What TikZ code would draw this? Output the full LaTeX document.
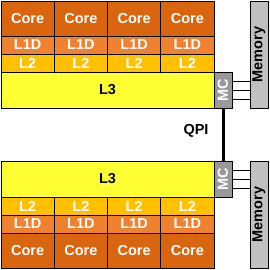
\documentclass[tikz,border=0pt]{standalone}
\usepackage{fontspec}
\setmainfont{Liberation Sans}
\usepackage{xcolor}
\usepackage{tikz}
\definecolor{corecol}{HTML}{D9650F}
\definecolor{lonecol}{HTML}{F0822F}
\definecolor{ltwocol}{HTML}{FFC000}
\definecolor{lthreecol}{HTML}{FFFF33}
\definecolor{mccol}{HTML}{999999}
\definecolor{memcol}{HTML}{C0C0C0}

\begin{document}
\begin{tikzpicture}[
    x=1pt, y=-1pt,
    cell/.style={
        rectangle,
        draw=black,
        line width=0.8pt,
        inner sep=0pt,
        outer sep=0pt,
        minimum width=53.25pt,
        minimum height=18pt,
        font=\fontsize{14.5}{14.5}\selectfont\bfseries,
    },
    core/.style={cell, fill=corecol, text=white, minimum height=35pt},
    lone/.style={cell, fill=lonecol, text=white},
    ltwo/.style={cell, fill=ltwocol, text=white},
    lthree/.style={cell, fill=lthreecol, text=black, minimum width=213pt, minimum height=36pt},
    mctrl/.style={cell, fill=mccol, text=white, minimum width=18pt, minimum height=36pt},
    memory/.style={cell, fill=memcol, text=black, minimum width=18pt, minimum height=107pt},
    membus/.style={line width=0.8pt, draw=black},
    qpi/.style={line width=3pt, draw=black},
]
\useasboundingbox (0,0) rectangle (270,270);

% upper socket
\node[core] (coreA1) at ( 27.6, 18.5) {Core};
\node[core] (coreA2) at ( 80.9, 18.5) {Core};
\node[core] (coreA3) at (134.1, 18.5) {Core};
\node[core] (coreA4) at (187.4, 18.5) {Core};
\node[lone] (loneA1) at ( 27.6, 45) {L1D};
\node[lone] (loneA2) at ( 80.9, 45) {L1D};
\node[lone] (loneA3) at (134.1, 45) {L1D};
\node[lone] (loneA4) at (187.4, 45) {L1D};
\node[ltwo] (ltwoA1) at ( 27.6, 63) {L2};
\node[ltwo] (ltwoA2) at ( 80.9, 63) {L2};
\node[ltwo] (ltwoA3) at (134.1, 63) {L2};
\node[ltwo] (ltwoA4) at (187.4, 63) {L2};
\node[lthree] (lthreeA) at (107.5, 90) {L3};
\node[mctrl] (mcA) at (223, 90) {\rotatebox{90}{MC}};
\node[memory] (memA) at (259, 54.5) {\rotatebox{90}{Memory}};

% lower socket
\node[lthree] (lthreeB) at (107.5, 179) {L3};
\node[mctrl] (mcB) at (223, 179) {\rotatebox{90}{MC}};
\node[memory] (memB) at (259, 214.5) {\rotatebox{90}{Memory}};
\node[ltwo] (ltwoB1) at ( 27.6, 206) {L2};
\node[ltwo] (ltwoB2) at ( 80.9, 206) {L2};
\node[ltwo] (ltwoB3) at (134.1, 206) {L2};
\node[ltwo] (ltwoB4) at (187.4, 206) {L2};
\node[lone] (loneB1) at ( 27.6, 224) {L1D};
\node[lone] (loneB2) at ( 80.9, 224) {L1D};
\node[lone] (loneB3) at (134.1, 224) {L1D};
\node[lone] (loneB4) at (187.4, 224) {L1D};
\node[core] (coreB1) at ( 27.6, 250.5) {Core};
\node[core] (coreB2) at ( 80.9, 250.5) {Core};
\node[core] (coreB3) at (134.1, 250.5) {Core};
\node[core] (coreB4) at (187.4, 250.5) {Core};

% memory channels
\draw[membus] ([yshift=9pt]mcA.east) -- ([yshift=9pt]mcA.east -| memA.west);
\draw[membus] (mcA.east) -- (mcA.east -| memA.west);
\draw[membus] ([yshift=-9pt]mcA.east) -- ([yshift=-9pt]mcA.east -| memA.west);
\draw[membus] ([yshift=9pt]mcB.east) -- ([yshift=9pt]mcB.east -| memB.west);
\draw[membus] (mcB.east) -- (mcB.east -| memB.west);
\draw[membus] ([yshift=-9pt]mcB.east) -- ([yshift=-9pt]mcB.east -| memB.west);

% interconnect
\draw[qpi] (mcA) -- (mcB);
\node[font=\fontsize{14.5}{14.5}\selectfont\bfseries] (qpilbl) at (196, 131) {QPI};

\end{tikzpicture}
\end{document}
